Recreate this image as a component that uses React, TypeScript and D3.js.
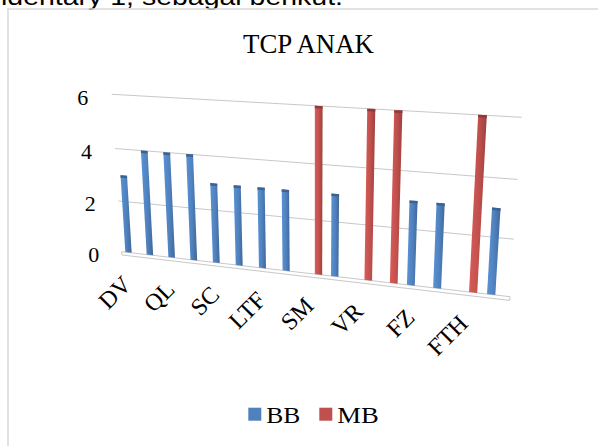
import React from "react";
import * as d3 from "d3";

// ---- data ----
const categories = ["DV", "", "QL", "", "SC", "", "LTF", "", "SM", "", "VR", "", "FZ", "", "FTH", ""];
const seriesNames = ["BB", "MB"];
const bbValues = [3, 4, 4, 4, 3, 3, 3, 3, 0, 3, 0, 0, 3, 3, 0, 3];
const mbValues = [0, 0, 0, 0, 0, 0, 0, 0, 6, 0, 6, 6, 0, 0, 6, 0];
const yTicks = [0, 2, 4, 6];
const titleText = "TCP ANAK";
const topText = "identary 1, sebagai berikut.";

// ---- layout ----
const W = 598;
const H = 446;
const SERIF = "'Liberation Serif', 'Times New Roman', Times, serif";
const SANS = "'Liberation Sans', Arial, sans-serif";
// projected back-wall corners (perspective view)
const P00: [number, number] = [121.7, 251.7];
const P10: [number, number] = [510, 296.7];
const P11: [number, number] = [521.7, 117.3];
const P01: [number, number] = [111.7, 94.3];

function quadMap(p0: number[], p1: number[], p2: number[], p3: number[]) {
  const dx1 = p1[0] - p2[0], dx2 = p3[0] - p2[0], dx3 = p0[0] - p1[0] + p2[0] - p3[0];
  const dy1 = p1[1] - p2[1], dy2 = p3[1] - p2[1], dy3 = p0[1] - p1[1] + p2[1] - p3[1];
  const den = dx1 * dy2 - dx2 * dy1;
  const g = (dx3 * dy2 - dx2 * dy3) / den;
  const h = (dx1 * dy3 - dx3 * dy1) / den;
  const a = p1[0] - p0[0] + g * p1[0], b = p3[0] - p0[0] + h * p3[0], c = p0[0];
  const d = p1[1] - p0[1] + g * p1[1], e = p3[1] - p0[1] + h * p3[1], f = p0[1];
  return (u: number, v: number): [number, number] => {
    const w = g * u + h * v + 1;
    return [(a * u + b * v + c) / w, (d * u + e * v + f) / w];
  };
}

const proj = quadMap(P00, P10, P11, P01);
const xScale = d3.scaleLinear().domain([0, categories.length]).range([0, 1]);
const yScale = d3.scaleLinear().domain([0, 6]).range([0, 1]);

const seriesOffset = [-0.18, 0.16];
const barHalf = 0.15;
const colors = ["#4f81bd", "#c0504d"];

const poly = (pts: [number, number][]) => d3.line()(pts.concat([pts[0]])) as string;

export default function App() {
  const series = [bbValues, mbValues];
  const bars: React.ReactNode[] = [];
  series.forEach((vals, s) => {
    vals.forEach((val, i) => {
      if (!val) return;
      const uc = i + 0.5 + seriesOffset[s];
      const ul = xScale(uc - barHalf), ur = xScale(uc + barHalf);
      const v0 = yScale(0), v1 = yScale(val);
      const bl = proj(ul, v0), br = proj(ur, v0), tr = proj(ur, v1), tl = proj(ul, v1);
      bars.push(
        <g key={`b${s}-${i}`}>
          <path d={poly([bl, br, tr, tl])} fill={`url(#grad${s})`} />
          <path
            d={poly([tl, tr, [tr[0], tr[1] + 2.5], [tl[0], tl[1] + 2.5]])}
            fill={s === 0 ? "#3d628f" : "#8f3a38"}
          />
        </g>
      );
    });
  });

  const grid = yTicks.filter((t) => t > 0).map((t) => {
    const a = proj(0, yScale(t)), b = proj(1, yScale(t));
    return <path key={`g${t}`} d={d3.line()([a, b]) as string} stroke="#c8c8c8" strokeWidth={1} fill="none" />;
  });

  const f0 = proj(0, 0), f1 = proj(1, 0), f2 = proj(1, -0.022), f3 = proj(0, -0.022);

  return (
    <svg width={W} height={H} style={{ position: "absolute", left: 0, top: 0, display: "block", background: "#fff" }}>
      <defs>
        {colors.map((c, s) => (
          <linearGradient key={s} id={`grad${s}`} x1="0" y1="0" x2="1" y2="0">
            <stop offset="0%" stopColor={d3.color(c)!.brighter(0.35).formatHex()} />
            <stop offset="55%" stopColor={c} />
            <stop offset="100%" stopColor={d3.color(c)!.darker(0.6).formatHex()} />
          </linearGradient>
        ))}
      </defs>
      <text x={1} y={5} style={{ fontFamily: SANS, fontSize: "24px" }} fill="#000"
        textLength={342} lengthAdjust="spacingAndGlyphs">{topText}</text>
      <path d={`M8,${H}V9H${W}`} fill="none" stroke="#d9d9d9" strokeWidth={1.5} />
      <text x={308.5} y={53.3} textAnchor="middle" style={{ fontFamily: SERIF, fontSize: "27px" }}
        textLength={131} lengthAdjust="spacingAndGlyphs">{titleText}</text>
      {grid}
      <path d={poly([f0, f1, f2, f3])} fill="none" stroke="#c8c8c8" strokeWidth={1} />
      {yTicks.map((t) => {
        const p = proj(xScale(-1.07), yScale(t));
        return (
          <text key={`y${t}`} x={p[0]} y={p[1] + 5} textAnchor="end" dominantBaseline="central"
            style={{ fontFamily: SERIF, fontSize: "22px" }}>{t}</text>
        );
      })}
      {bars}
      {categories.map((c, i) => {
        if (!c) return null;
        const p = proj(xScale(i + 0.5), 0);
        const x = p[0] + 0.5, y = p[1] + 33;
        return (
          <text key={`x${i}`} x={x} y={y} textAnchor="end" transform={`rotate(-45 ${x} ${y})`}
            style={{ fontFamily: SERIF, fontSize: "24px" }}>{c}</text>
        );
      })}
      {seriesNames.map((n, s) => {
        const lx = [248.3, 319.3][s];
        return (
          <g key={n}>
            <rect x={lx} y={407.7} width={13} height={13} fill={colors[s]} />
            <text x={lx + 18} y={423.3} style={{ fontFamily: SERIF, fontSize: "23px" }}
              textLength={s === 0 ? 34 : 41.5} lengthAdjust="spacingAndGlyphs">{n}</text>
          </g>
        );
      })}
    </svg>
  );
}
